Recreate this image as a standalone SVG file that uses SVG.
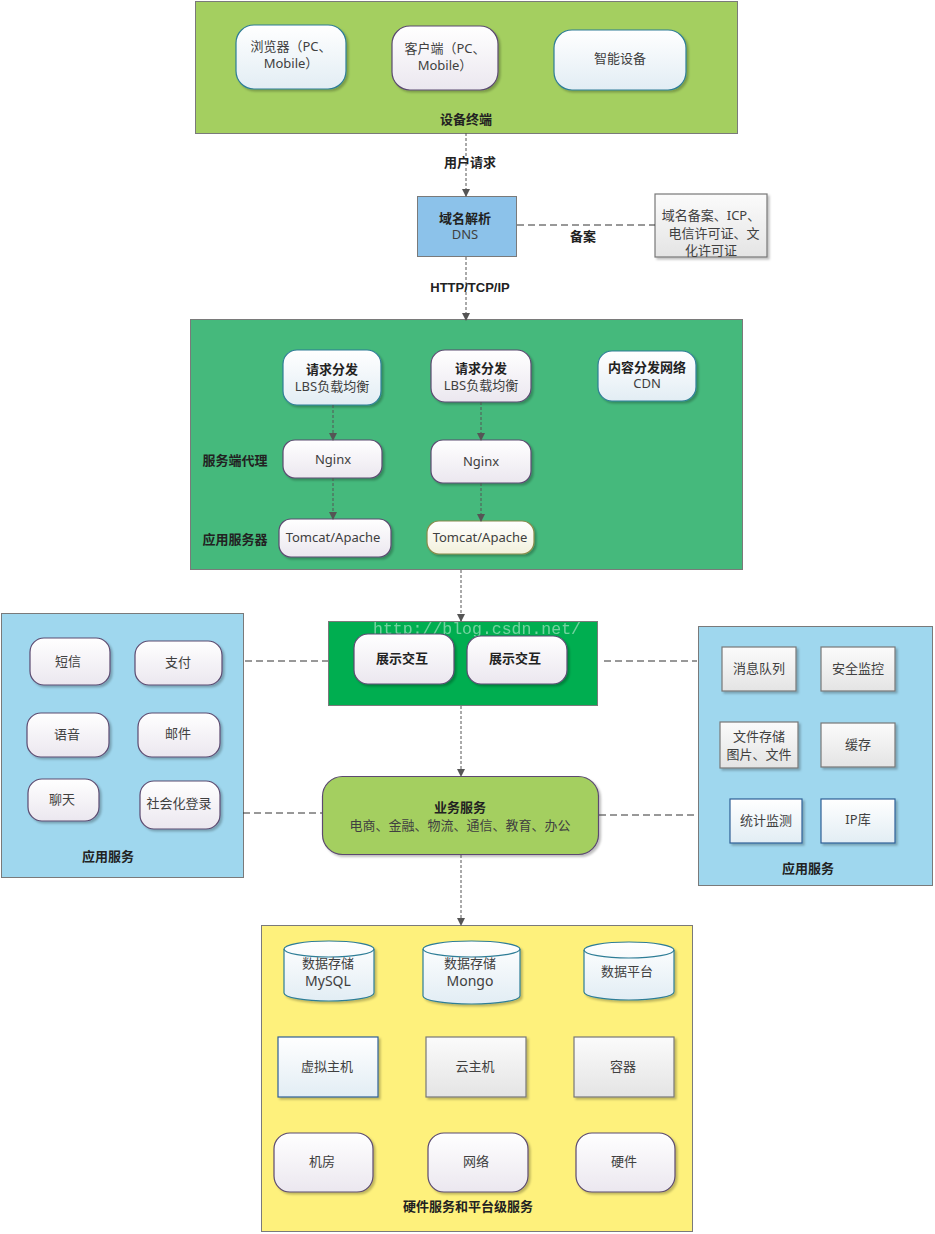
<svg xmlns="http://www.w3.org/2000/svg" width="935" height="1234" viewBox="0 0 935 1234">
<defs>
<linearGradient id="gBlue" x1="0" y1="0" x2="0" y2="1"><stop offset="0" stop-color="#ffffff"/><stop offset="1" stop-color="#e2edf4"/></linearGradient>
<linearGradient id="gPurple" x1="0" y1="0" x2="0" y2="1"><stop offset="0" stop-color="#ffffff"/><stop offset="1" stop-color="#ebe7ef"/></linearGradient>
<linearGradient id="gGray" x1="0" y1="0" x2="0" y2="1"><stop offset="0" stop-color="#fbfbfb"/><stop offset="1" stop-color="#e4e4e4"/></linearGradient>
<linearGradient id="gOlive" x1="0" y1="0" x2="0" y2="1"><stop offset="0" stop-color="#ffffff"/><stop offset="1" stop-color="#f2f1dc"/></linearGradient>
<filter id="sh" x="-10%" y="-10%" width="130%" height="130%"><feDropShadow dx="2" dy="2" stdDeviation="1.2" flood-color="#000" flood-opacity="0.25"/></filter>
<marker id="arr" markerWidth="8" markerHeight="8" refX="7" refY="4" orient="auto" markerUnits="userSpaceOnUse"><path d="M0,0 L8,4 L0,8 z" fill="#555"/></marker>
<style>
text{font-family:"Noto Sans","Noto Sans CJK SC",sans-serif;font-size:13px;fill:#404040;text-anchor:middle}
.b{font-family:"Liberation Sans","Noto Sans CJK SC",sans-serif;font-weight:bold;fill:#222}
.lg{font-size:14px}
.grp{stroke:#7a7a7a;stroke-width:1}
.nb{fill:url(#gBlue);stroke:#2e7d96;stroke-width:1.2;filter:url(#sh)}
.np{fill:url(#gPurple);stroke:#5b4a70;stroke-width:1.2;filter:url(#sh)}
.ng{fill:url(#gGray);stroke:#777;stroke-width:1.2;filter:url(#sh)}
.no{fill:url(#gOlive);stroke:#8a8a4a;stroke-width:1.2;filter:url(#sh)}
.nbr{fill:url(#gBlue);stroke:#2f5f96;stroke-width:1.2;filter:url(#sh)}
.arrow{stroke:#555;stroke-width:1;stroke-dasharray:3,2;fill:none;marker-end:url(#arr)}
.link{stroke:#333;stroke-width:1;stroke-dasharray:7,4;fill:none}
.wm{font-family:"Liberation Mono",monospace;font-size:16.5px;fill:#ffffff;opacity:0.45;text-anchor:start}
</style>
</defs>

<g id="terminals">
<rect class="grp" x="195.5" y="1.5" width="542" height="132" fill="#a4cf60"/>
<text class="b" x="466" y="124">设备终端</text>
</g>
<g id="browser"><rect class="nb" x="236" y="25" width="110" height="64" rx="18"/><text x="291" y="51">浏览器（PC、</text><text x="291" y="68">Mobile）</text></g>
<g id="client"><rect class="np" x="392" y="26" width="106" height="64" rx="18"/><text x="445" y="53">客户端（PC、</text><text x="445" y="70">Mobile）</text></g>
<g id="smart"><rect class="nb" x="554" y="30" width="132" height="60" rx="18"/><text x="620" y="63">智能设备</text></g>

<g id="dns"><rect x="417.5" y="196.5" width="99" height="60" fill="#8cc2ea" stroke="#7a7a7a"/><text class="b" x="465" y="223">域名解析</text><text x="465" y="239">DNS</text></g>
<g id="icp"><rect class="ng" x="655" y="194" width="112" height="63"/><text x="711" y="220">域名备案、ICP、</text><text x="714" y="238">电信许可证、文</text><text x="711" y="255">化许可证</text></g>

<g id="server">
<rect class="grp" x="190.5" y="319.5" width="552" height="250" fill="#45b97c"/>
<text class="b" x="235" y="465">服务端代理</text>
<text class="b" x="235" y="544">应用服务器</text>
</g>
<g id="lbs1"><rect class="nb" x="283" y="350" width="98" height="55" rx="14"/><text class="b" x="332" y="374">请求分发</text><text x="332" y="391">LBS负载均衡</text></g>
<g id="lbs2"><rect class="np" x="431" y="350" width="100" height="52" rx="14"/><text class="b" x="481" y="373">请求分发</text><text x="481" y="390">LBS负载均衡</text></g>
<g id="cdn"><rect class="nb" x="598" y="351" width="98" height="50" rx="14"/><text class="b" x="647" y="372">内容分发网络</text><text x="647" y="388">CDN</text></g>
<g id="nginx1"><rect class="np" x="283" y="440" width="99" height="38" rx="12"/><text x="333" y="464">Nginx</text></g>
<g id="nginx2"><rect class="np" x="431" y="440" width="100" height="43" rx="12"/><text x="481" y="466">Nginx</text></g>
<g id="tomcat1"><rect class="np" x="279" y="519" width="112" height="38" rx="12"/><text x="333" y="542">Tomcat/Apache</text></g>
<g id="tomcat2"><rect class="no" x="427" y="521" width="107" height="33" rx="12"/><text x="480" y="542">Tomcat/Apache</text></g>

<g id="display">
<rect class="grp" x="328.5" y="621.5" width="269" height="84" fill="#00ae50"/>
<text class="wm" x="373" y="634">http://blog.csdn.net/</text>
</g>
<g id="show1"><rect class="np" x="354" y="634" width="100" height="50" rx="14"/><text class="b" x="402" y="663">展示交互</text></g>
<g id="show2"><rect class="np" x="467" y="636" width="100" height="48" rx="14"/><text class="b" x="515" y="663">展示交互</text></g>

<g id="business"><rect x="322.5" y="776.5" width="276" height="78" rx="20" fill="#a4cf60" stroke="#5b4a70" stroke-width="1.2" filter="url(#sh)"/><text class="b" x="460" y="812">业务服务</text><text x="460" y="830">电商、金融、物流、通信、教育、办公</text></g>

<g id="appLeft">
<rect class="grp" x="1.5" y="613.5" width="242" height="264" fill="#9fd7ee"/>
<text class="b" x="108" y="861">应用服务</text>
</g>
<g id="sms"><rect class="np" x="30" y="638" width="80" height="47" rx="14"/><text x="68" y="666">短信</text></g>
<g id="pay"><rect class="np" x="135" y="641" width="87" height="44" rx="14"/><text x="178" y="667">支付</text></g>
<g id="voice"><rect class="np" x="27" y="713" width="82" height="44" rx="14"/><text x="67" y="739">语音</text></g>
<g id="mail"><rect class="np" x="138" y="713" width="82" height="44" rx="14"/><text x="178" y="738">邮件</text></g>
<g id="chat"><rect class="np" x="28" y="779" width="71" height="42" rx="14"/><text x="62" y="804">聊天</text></g>
<g id="social"><rect class="np" x="140" y="781" width="80" height="48" rx="14"/><text x="179" y="808">社会化登录</text></g>

<g id="appRight">
<rect class="grp" x="698.5" y="626.5" width="234" height="259" fill="#9fd7ee"/>
<text class="b" x="808" y="873">应用服务</text>
</g>
<g id="mq"><rect class="ng" x="722" y="647" width="74" height="44"/><text x="759" y="673">消息队列</text></g>
<g id="sec"><rect class="ng" x="821" y="647" width="74" height="44"/><text x="858" y="673">安全监控</text></g>
<g id="file"><rect class="ng" x="720" y="722" width="78" height="46"/><text x="759" y="741">文件存储</text><text x="759" y="759">图片、文件</text></g>
<g id="cache"><rect class="ng" x="821" y="723" width="74" height="44"/><text x="858" y="749">缓存</text></g>
<g id="stat"><rect class="nbr" x="730" y="799" width="72" height="44"/><text x="766" y="825">统计监测</text></g>
<g id="iplib"><rect class="nbr" x="821" y="799" width="74" height="44"/><text x="858" y="824">IP库</text></g>

<g id="infra">
<rect class="grp" x="261.5" y="925.5" width="431" height="306" fill="#fef17c"/>
<text class="b" x="468" y="1211">硬件服务和平台级服务</text>
</g>
<g id="mysql"><path class="nb" d="M284,949 A45,8 0 0 1 374,949 L374,993 A45,8 0 0 1 284,993 Z"/><path d="M284,949 A45,8 0 0 0 374,949" fill="none" stroke="#2e7d96" stroke-width="1.2"/><text x="328" y="968">数据存储</text><text class="lg" x="328" y="986">MySQL</text></g>
<g id="mongo"><path class="nb" d="M423,949 A48.5,8 0 0 1 520,949 L520,996 A48.5,8 0 0 1 423,996 Z"/><path d="M423,949 A48.5,8 0 0 0 520,949" fill="none" stroke="#2e7d96" stroke-width="1.2"/><text x="470" y="968">数据存储</text><text class="lg" x="470" y="986">Mongo</text></g>
<g id="dataplat"><path class="nb" d="M584,950 A45,8 0 0 1 674,950 L674,992 A45,8 0 0 1 584,992 Z"/><path d="M584,950 A45,8 0 0 0 674,950" fill="none" stroke="#2e7d96" stroke-width="1.2"/><text x="627" y="976">数据平台</text></g>
<g id="vhost"><rect class="nbr" x="278" y="1037" width="100" height="60"/><text x="327" y="1071">虚拟主机</text></g>
<g id="cloud"><rect class="ng" x="426" y="1037" width="100" height="60"/><text x="475" y="1071">云主机</text></g>
<g id="container"><rect class="ng" x="574" y="1037" width="100" height="60"/><text x="623" y="1071">容器</text></g>
<g id="room"><rect class="np" x="274" y="1133" width="99" height="59" rx="16"/><text x="322" y="1166">机房</text></g>
<g id="network"><rect class="np" x="428" y="1133" width="100" height="59" rx="16"/><text x="476" y="1166">网络</text></g>
<g id="hardware"><rect class="np" x="576" y="1133" width="99" height="59" rx="16"/><text x="624" y="1166">硬件</text></g>

<g id="connectors">
<line class="arrow" x1="466" y1="133" x2="466" y2="196"/>
<text class="b" x="470" y="167">用户请求</text>
<line class="link" x1="517" y1="225" x2="655" y2="225"/>
<text class="b" x="583" y="241">备案</text>
<line class="arrow" x1="466" y1="257" x2="466" y2="320"/>
<text class="b" x="470" y="292">HTTP/TCP/IP</text>
<line class="arrow" x1="333" y1="405" x2="333" y2="440"/>
<line class="arrow" x1="481" y1="402" x2="481" y2="440"/>
<line class="arrow" x1="333" y1="478" x2="333" y2="519"/>
<line class="arrow" x1="481" y1="483" x2="481" y2="521"/>
<line class="arrow" x1="461" y1="570" x2="461" y2="621"/>
<line class="arrow" x1="461" y1="706" x2="461" y2="776"/>
<line class="arrow" x1="461" y1="855" x2="461" y2="925"/>
<line class="link" x1="245" y1="661" x2="328" y2="661"/>
<line class="link" x1="604" y1="661" x2="697" y2="661"/>
<line class="link" x1="243" y1="813" x2="322" y2="813"/>
<line class="link" x1="599" y1="815" x2="697" y2="815"/>
</g>
</svg>
